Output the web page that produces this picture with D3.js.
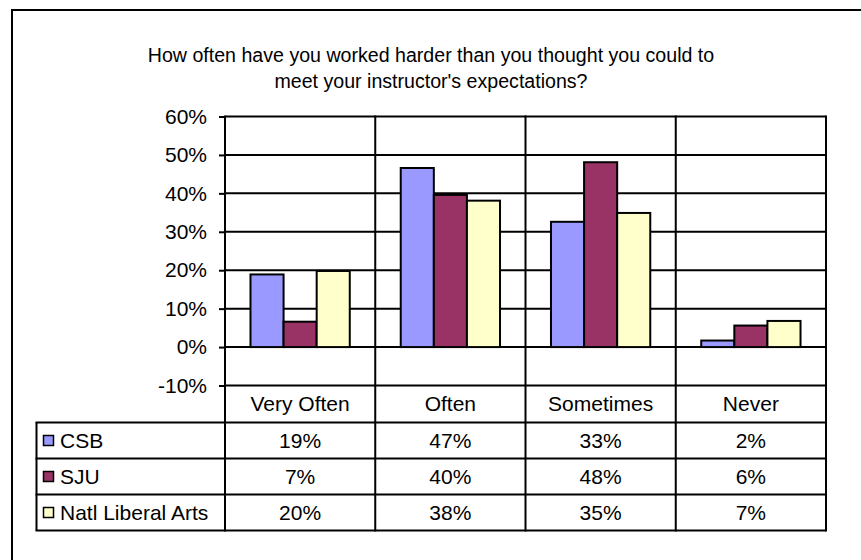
<!DOCTYPE html>
<html>
<head>
<meta charset="utf-8">
<script src="https://cdn.jsdelivr.net/npm/d3@7"></script>
<style>
  html, body { margin: 0; padding: 0; background: #fff; }
  svg { display: block; font-family: "Liberation Sans", Arial, sans-serif; }
</style>
</head>
<body>
<div id="chart"></div>
<script>
// data
const categories = ["Very Often", "Often", "Sometimes", "Never"];
const seriesNames = ["CSB", "SJU", "Natl Liberal Arts"];
const seriesColors = ["#9999FF", "#993366", "#FFFFCC"];
const csbValues = [0.189, 0.466, 0.326, 0.017];
const sjuValues = [0.066, 0.396, 0.481, 0.056];
const natlValues = [0.198, 0.381, 0.349, 0.068];
const yTicks = [-0.1, 0, 0.1, 0.2, 0.3, 0.4, 0.5, 0.6];
const titleLines = [
  "How often have you worked harder than you thought you could to",
  "meet your instructor's expectations?"
];

const series = [csbValues, sjuValues, natlValues].map((vals, i) => ({
  name: seriesNames[i],
  color: seriesColors[i],
  values: vals
}));

const width = 861, height = 560;
const plot = { left: 225, right: 826, top: 116.5, bottom: 385.5 };
const rowH = 36;
const catRowBottom = plot.bottom + 37;
const legendLeft = 36.5;
const tableBottom = catRowBottom + rowH * series.length;
const titleSize = 19.6;
const fontSize = 21;

// percent with a plain hyphen for negatives, like the original
const pct = d => Math.round(d * 100) + "%";

const svg = d3.select("#chart").append("svg")
  .attr("width", width)
  .attr("height", height);

// outer chart border (runs off the bottom/right of the picture)
svg.append("rect")
  .attr("x", 12).attr("y", 10)
  .attr("width", 900).attr("height", 600)
  .attr("fill", "none").attr("stroke", "#000").attr("stroke-width", 2);

// title
svg.append("text")
  .attr("text-anchor", "middle")
  .attr("font-size", titleSize)
  .selectAll("tspan")
  .data(titleLines)
  .join("tspan")
  .attr("x", 431)
  .attr("y", (d, i) => 62 + i * 26)
  .text(d => d);

const y = d3.scaleLinear().domain([-0.1, 0.6]).range([plot.bottom, plot.top]);
const x0 = d3.scaleBand().domain(categories).range([plot.left, plot.right]);
const x1 = d3.scaleBand().domain(seriesNames).range([0, x0.bandwidth()]).paddingOuter(0.77);

// horizontal gridlines
svg.append("g")
  .selectAll("line")
  .data(yTicks)
  .join("line")
  .attr("x1", plot.left).attr("x2", plot.right)
  .attr("y1", d => y(d)).attr("y2", d => y(d))
  .attr("stroke", "#000").attr("stroke-width", 2);

// bars
svg.append("g")
  .selectAll("g")
  .data(series)
  .join("g")
  .attr("fill", d => d.color)
  .selectAll("rect")
  .data(d => d.values.map((v, i) => ({ name: d.name, cat: categories[i], v })))
  .join("rect")
  .attr("x", d => x0(d.cat) + x1(d.name))
  .attr("width", x1.bandwidth())
  .attr("y", d => y(Math.max(0, d.v)))
  .attr("height", d => Math.abs(y(d.v) - y(0)))
  .attr("stroke", "#000").attr("stroke-width", 2);

// vertical category lines through plot and data table
const xEdges = categories.map(c => x0(c)).concat([plot.right]);
svg.append("g")
  .selectAll("line")
  .data(xEdges)
  .join("line")
  .attr("x1", d => d).attr("x2", d => d)
  .attr("y1", plot.top - 1).attr("y2", tableBottom + 1)
  .attr("stroke", "#000").attr("stroke-width", 2);

// y axis ticks + labels
const yAxis = svg.append("g")
  .attr("transform", `translate(${plot.left},0)`)
  .call(d3.axisLeft(y).tickValues(yTicks).tickSize(6).tickPadding(12).tickFormat(pct));
yAxis.select(".domain").remove();
yAxis.selectAll(".tick line").attr("stroke", "#000").attr("stroke-width", 2);
yAxis.selectAll(".tick text")
  .attr("font-size", fontSize)
  .attr("font-family", "Liberation Sans, Arial, sans-serif")
  .attr("fill", "#000");

// category labels row
svg.append("g")
  .selectAll("text")
  .data(categories)
  .join("text")
  .attr("x", d => x0(d) + x0.bandwidth() / 2)
  .attr("y", (plot.bottom + catRowBottom) / 2)
  .attr("dy", "0.35em")
  .attr("text-anchor", "middle")
  .attr("font-size", fontSize)
  .text(d => d);

// data table row lines
const rowTops = d3.range(series.length + 1).map(i => catRowBottom + i * rowH);
svg.append("g")
  .selectAll("line")
  .data(rowTops)
  .join("line")
  .attr("x1", legendLeft - 1).attr("x2", plot.right)
  .attr("y1", d => d).attr("y2", d => d)
  .attr("stroke", "#000").attr("stroke-width", 2);
svg.append("line")
  .attr("x1", legendLeft).attr("x2", legendLeft)
  .attr("y1", catRowBottom).attr("y2", tableBottom)
  .attr("stroke", "#000").attr("stroke-width", 2);

// table rows: legend key + values
const rows = svg.append("g")
  .selectAll("g")
  .data(series)
  .join("g")
  .attr("transform", (d, i) => `translate(0,${catRowBottom + i * rowH})`);

rows.append("rect")
  .attr("x", 43.5).attr("y", rowH / 2 - 5)
  .attr("width", 10).attr("height", 10)
  .attr("fill", d => d.color)
  .attr("stroke", "#000").attr("stroke-width", 1.5);

rows.append("text")
  .attr("x", 60)
  .attr("y", rowH / 2)
  .attr("dy", "0.35em")
  .attr("font-size", fontSize)
  .text(d => d.name);

rows.selectAll("text.val")
  .data(d => d.values.map((v, i) => ({ cat: categories[i], v })))
  .join("text")
  .attr("class", "val")
  .attr("x", d => x0(d.cat) + x0.bandwidth() / 2)
  .attr("y", rowH / 2)
  .attr("dy", "0.35em")
  .attr("text-anchor", "middle")
  .attr("font-size", fontSize)
  .text(d => pct(d.v));
</script>
</body>
</html>
